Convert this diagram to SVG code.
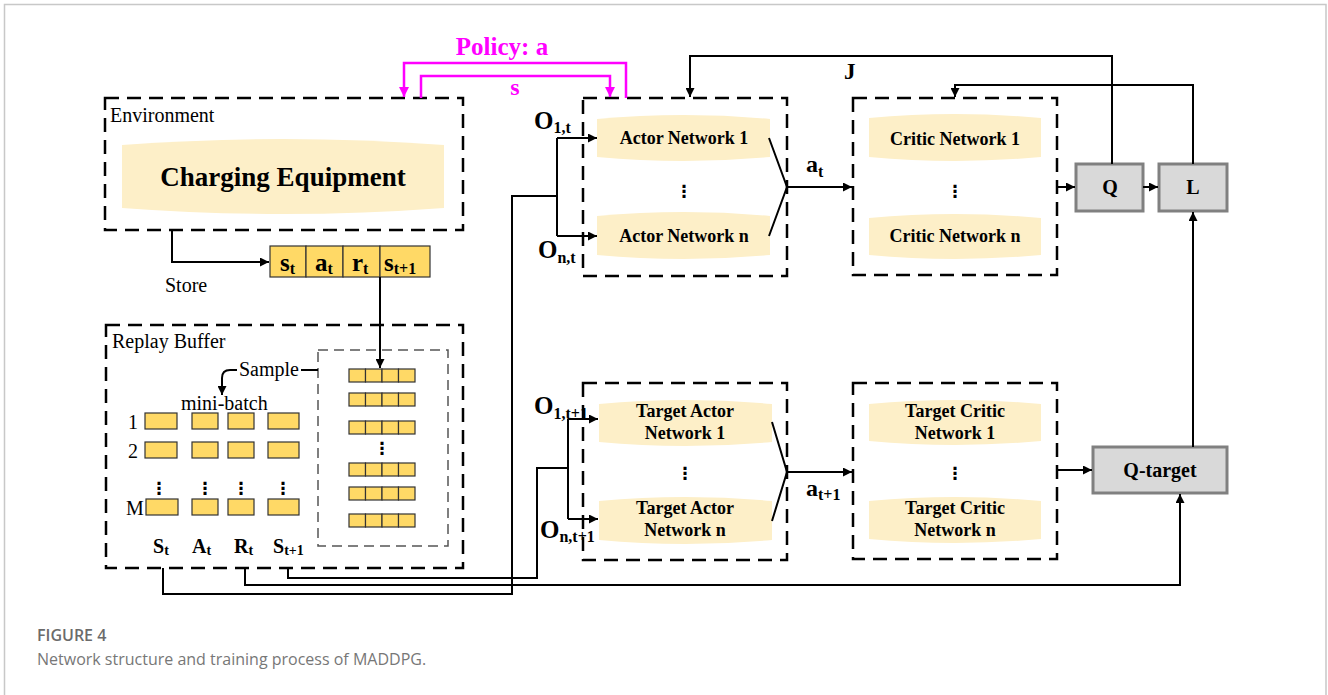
<svg xmlns="http://www.w3.org/2000/svg" width="1328" height="695" viewBox="0 0 1328 695">
  <style>
    .serif { font-family: "Liberation Serif", "Times New Roman", serif; fill: #000; }
    .b { font-weight: bold; }
    .lbl { font-size: 20px; }
    .net { font-size: 18px; font-weight: bold; text-anchor: middle; }
    .dash { fill: none; stroke: #000; stroke-width: 2.5; stroke-dasharray: 14 8; }
    .dash-in { fill: none; stroke: #555; stroke-width: 1.5; stroke-dasharray: 10 6; }
    .pill { fill: #fdefc8; }
    .cell { fill: #ffd966; stroke: #333; stroke-width: 1.2; }
    .gbox { fill: #d9d9d9; stroke: #808080; stroke-width: 3; }
    .ln { fill: none; stroke: #000; stroke-width: 2; }
    .mg { fill: none; stroke: #ff00ff; stroke-width: 2.5; }
    .dots { font-family: "DejaVu Sans", sans-serif; font-size: 17px; font-weight: bold; text-anchor: middle; }
  </style>
  <defs>
    <marker id="ah" viewBox="0 0 10 10" refX="10" refY="5" markerWidth="9" markerHeight="9" markerUnits="userSpaceOnUse" orient="auto">
      <path d="M0,0 L10,5 L0,10 z" fill="#000"/>
    </marker>
    <marker id="ahm" viewBox="0 0 10 10" refX="10" refY="5" markerWidth="10" markerHeight="10" markerUnits="userSpaceOnUse" orient="auto">
      <path d="M0,0 L10,5 L0,10 z" fill="#ff00ff"/>
    </marker>
  </defs>

  <rect width="1328" height="695" fill="#fff"/>
  <!-- page frame -->
  <path d="M4.5,695 V4.5 H1326 V695" fill="none" stroke="#c8c8c8" stroke-width="1.5"/>

  <!-- Environment -->
  <g id="environment">
    <rect class="dash" x="105" y="98" width="358" height="132"/>
    <text class="serif lbl" x="110" y="122">Environment</text>
    <path class="pill" d="M122,145 Q283,133 444,145 L444,208 Q283,220 122,208 Z"/>
    <text class="serif b" x="283" y="186" font-size="27" text-anchor="middle">Charging Equipment</text>
  </g>

  <!-- transition tuple -->
  <g id="transition">
    <rect class="cell" x="270" y="246" width="36" height="31"/>
    <rect class="cell" x="306" y="246" width="37" height="31"/>
    <rect class="cell" x="343" y="246" width="37" height="31"/>
    <rect class="cell" x="380" y="246" width="50" height="31"/>
    <text class="serif b" x="280" y="271" font-size="25">s<tspan font-size="16" dy="3">t</tspan></text>
    <text class="serif b" x="315" y="271" font-size="25">a<tspan font-size="16" dy="3">t</tspan></text>
    <text class="serif b" x="352" y="271" font-size="25">r<tspan font-size="16" dy="3">t</tspan></text>
    <text class="serif b" x="384" y="271" font-size="25">s<tspan font-size="16" dy="3">t+1</tspan></text>
    <text class="serif lbl" x="165" y="292">Store</text>
  </g>

  <!-- Replay buffer -->
  <g id="replay-buffer">
    <rect class="dash" x="106" y="325" width="357" height="243"/>
    <text class="serif lbl" x="112" y="348">Replay Buffer</text>
    <rect class="dash-in" x="318" y="350" width="130" height="196"/>
    <g id="buffer-rows">
      <g transform="translate(349,369)">
        <rect class="cell" x="0" y="0" width="16.5" height="13"/><rect class="cell" x="16.5" y="0" width="16.5" height="13"/><rect class="cell" x="33" y="0" width="16.5" height="13"/><rect class="cell" x="49.5" y="0" width="16.5" height="13"/>
      </g>
      <g transform="translate(349,393)">
        <rect class="cell" x="0" y="0" width="16.5" height="13"/><rect class="cell" x="16.5" y="0" width="16.5" height="13"/><rect class="cell" x="33" y="0" width="16.5" height="13"/><rect class="cell" x="49.5" y="0" width="16.5" height="13"/>
      </g>
      <g transform="translate(349,421)">
        <rect class="cell" x="0" y="0" width="16.5" height="13"/><rect class="cell" x="16.5" y="0" width="16.5" height="13"/><rect class="cell" x="33" y="0" width="16.5" height="13"/><rect class="cell" x="49.5" y="0" width="16.5" height="13"/>
      </g>
      <text class="dots" x="382" y="454">⋮</text>
      <g transform="translate(349,463)">
        <rect class="cell" x="0" y="0" width="16.5" height="13"/><rect class="cell" x="16.5" y="0" width="16.5" height="13"/><rect class="cell" x="33" y="0" width="16.5" height="13"/><rect class="cell" x="49.5" y="0" width="16.5" height="13"/>
      </g>
      <g transform="translate(349,487)">
        <rect class="cell" x="0" y="0" width="16.5" height="13"/><rect class="cell" x="16.5" y="0" width="16.5" height="13"/><rect class="cell" x="33" y="0" width="16.5" height="13"/><rect class="cell" x="49.5" y="0" width="16.5" height="13"/>
      </g>
      <g transform="translate(349,514)">
        <rect class="cell" x="0" y="0" width="16.5" height="13"/><rect class="cell" x="16.5" y="0" width="16.5" height="13"/><rect class="cell" x="33" y="0" width="16.5" height="13"/><rect class="cell" x="49.5" y="0" width="16.5" height="13"/>
      </g>
    </g>
    <text class="serif lbl" x="239" y="376">Sample</text>
    <text class="serif lbl" x="181" y="410">mini-batch</text>
    <g id="mini-batch">
      <rect class="cell" x="145" y="413" width="32" height="16"/><rect class="cell" x="192" y="413" width="26" height="16"/><rect class="cell" x="228" y="413" width="26" height="16"/><rect class="cell" x="268" y="413" width="31" height="16"/>
      <rect class="cell" x="145" y="442" width="32" height="16"/><rect class="cell" x="192" y="442" width="26" height="16"/><rect class="cell" x="228" y="442" width="26" height="16"/><rect class="cell" x="268" y="442" width="31" height="16"/>
      <rect class="cell" x="146" y="499" width="32" height="16"/><rect class="cell" x="192" y="499" width="26" height="16"/><rect class="cell" x="228" y="499" width="26" height="16"/><rect class="cell" x="268" y="499" width="31" height="16"/>
      <text class="dots" x="159" y="494">⋮</text>
      <text class="dots" x="205" y="494">⋮</text>
      <text class="dots" x="241" y="494">⋮</text>
      <text class="dots" x="283" y="494">⋮</text>
      <text class="serif lbl" x="133" y="429" text-anchor="middle">1</text>
      <text class="serif lbl" x="133" y="458" text-anchor="middle">2</text>
      <text class="serif lbl" x="135" y="515" text-anchor="middle">M</text>
      <text class="serif b" x="153" y="553" font-size="20">S<tspan font-size="14" dy="2">t</tspan></text>
      <text class="serif b" x="192" y="553" font-size="20">A<tspan font-size="14" dy="2">t</tspan></text>
      <text class="serif b" x="234" y="553" font-size="20">R<tspan font-size="14" dy="2">t</tspan></text>
      <text class="serif b" x="273" y="553" font-size="20">S<tspan font-size="14" dy="2">t+1</tspan></text>
    </g>
  </g>

  <!-- Actor networks -->
  <g id="actor">
    <rect class="dash" x="583" y="98" width="204" height="178"/>
    <path class="pill" d="M597,119 Q684,111 770,119 L770,157 Q684,165 597,157 Z"/>
    <path class="pill" d="M597,216 Q684,208 770,216 L770,255 Q684,263 597,255 Z"/>
    <text class="serif net" x="684" y="144">Actor Network 1</text>
    <text class="serif net" x="684" y="242">Actor Network n</text>
    <text class="dots" x="684" y="197">⋮</text>
  </g>

  <!-- Critic networks -->
  <g id="critic">
    <rect class="dash" x="853" y="98" width="204" height="177"/>
    <path class="pill" d="M869,118 Q955,110 1041,118 L1041,157 Q955,165 869,157 Z"/>
    <path class="pill" d="M869,218 Q955,210 1041,218 L1041,255 Q955,263 869,255 Z"/>
    <text class="serif net" x="955" y="145">Critic Network 1</text>
    <text class="serif net" x="955" y="242">Critic Network n</text>
    <text class="dots" x="955" y="197">⋮</text>
  </g>

  <!-- Target actor networks -->
  <g id="target-actor">
    <rect class="dash" x="583" y="383" width="204" height="177"/>
    <path class="pill" d="M599,404 Q685,396 772,404 L772,442 Q685,450 599,442 Z"/>
    <path class="pill" d="M599,501 Q685,493 772,501 L772,540 Q685,548 599,540 Z"/>
    <text class="serif net" x="685" y="417">Target Actor</text>
    <text class="serif net" x="685" y="439">Network 1</text>
    <text class="serif net" x="685" y="514">Target Actor</text>
    <text class="serif net" x="685" y="536">Network n</text>
    <text class="dots" x="685" y="479">⋮</text>
  </g>

  <!-- Target critic networks -->
  <g id="target-critic">
    <rect class="dash" x="853" y="383" width="204" height="176"/>
    <path class="pill" d="M869,404 Q955,396 1041,404 L1041,441 Q955,449 869,441 Z"/>
    <path class="pill" d="M869,501 Q955,493 1041,501 L1041,539 Q955,547 869,539 Z"/>
    <text class="serif net" x="955" y="417">Target Critic</text>
    <text class="serif net" x="955" y="439">Network 1</text>
    <text class="serif net" x="955" y="514">Target Critic</text>
    <text class="serif net" x="955" y="536">Network n</text>
    <text class="dots" x="955" y="479">⋮</text>
  </g>

  <g id="q">
    <rect class="gbox" x="1076" y="164" width="67" height="47"/>
    <text class="serif b lbl" x="1110" y="194" text-anchor="middle">Q</text>
  </g>
  <g id="l">
    <rect class="gbox" x="1159" y="164" width="68" height="47"/>
    <text class="serif b lbl" x="1193" y="194" text-anchor="middle">L</text>
  </g>
  <g id="q-target">
    <rect class="gbox" x="1093" y="447" width="134" height="46"/>
    <text class="serif b lbl" x="1160" y="477" text-anchor="middle">Q-target</text>
  </g>

  <!-- connectors -->
  <g id="connectors">
    <path class="ln" d="M172,230 V262 H269" marker-end="url(#ah)"/>
    <path class="ln" d="M380,277 V368" marker-end="url(#ah)"/>
    <path class="ln" d="M318,370 H301"/>
    <path class="ln" d="M237,370 H230 Q222,370 222,378 V395" marker-end="url(#ah)"/>

    <path class="ln" d="M163,568 V594 H512 V196 H557"/>
    <path class="ln" d="M557,138 V236"/>
    <path class="ln" d="M557,138 H597" marker-end="url(#ah)"/>
    <path class="ln" d="M557,236 H597" marker-end="url(#ah)"/>

    <path class="ln" d="M288,568 V578 H537 V468 H568"/>
    <path class="ln" d="M568,419 V519"/>
    <path class="ln" d="M568,419 H598" marker-end="url(#ah)"/>
    <path class="ln" d="M568,519 H598" marker-end="url(#ah)"/>

    <path class="ln" d="M245,568 V585 H1180 V494" marker-end="url(#ah)"/>

    <path class="ln" d="M769,138 L787,187 L769,236"/>
    <path class="ln" d="M787,187 H852" marker-end="url(#ah)"/>
    <path class="ln" d="M772,422 L787,472 L772,521"/>
    <path class="ln" d="M787,472 H852" marker-end="url(#ah)"/>

    <path class="ln" d="M1057,187 H1075" marker-end="url(#ah)"/>
    <path class="ln" d="M1143,187 H1158" marker-end="url(#ah)"/>
    <path class="ln" d="M1057,470 H1092" marker-end="url(#ah)"/>
    <path class="ln" d="M1193,447 V212" marker-end="url(#ah)"/>

    <path class="ln" d="M1112,164 V56 H690 V97" marker-end="url(#ah)"/>
    <path class="ln" d="M1193,164 V85 H955 V97" marker-end="url(#ah)"/>

    <path class="mg" d="M626,98 V63 H404 V97" marker-end="url(#ahm)"/>
    <path class="mg" d="M421,98 V76 H610 V97" marker-end="url(#ahm)"/>
  </g>

  <!-- connector labels -->
  <g id="labels">
    <text class="serif b" x="502" y="55" font-size="25" style="fill:#ff00ff" text-anchor="middle">Policy: a</text>
    <text class="serif b" x="515" y="95" font-size="24" style="fill:#ff00ff" text-anchor="middle">s</text>
    <text class="serif b" x="844" y="79" font-size="23">J</text>
    <text class="serif b" x="806" y="172" font-size="24">a<tspan font-size="16" dy="5">t</tspan></text>
    <text class="serif b" x="806" y="496" font-size="24">a<tspan font-size="16" dy="4">t+1</tspan></text>
    <text class="serif b" x="534" y="129" font-size="25">O<tspan font-size="16" dy="4">1,t</tspan></text>
    <text class="serif b" x="538" y="258" font-size="25">O<tspan font-size="16" dy="5">n,t</tspan></text>
    <text class="serif b" x="534" y="414" font-size="25">O<tspan font-size="16" dy="5">1,t+1</tspan></text>
    <text class="serif b" x="540" y="538" font-size="25">O<tspan font-size="16" dy="4">n,t+1</tspan></text>
  </g>

  <!-- caption -->
  <text x="37" y="641" font-family="'Open Sans', 'Noto Sans', sans-serif" font-size="16" font-weight="600" fill="#6b6b6b">FIGURE 4</text>
  <text x="37" y="665" font-family="'Open Sans', 'Noto Sans', sans-serif" font-size="16" fill="#777">Network structure and training process of MADDPG.</text>
</svg>
